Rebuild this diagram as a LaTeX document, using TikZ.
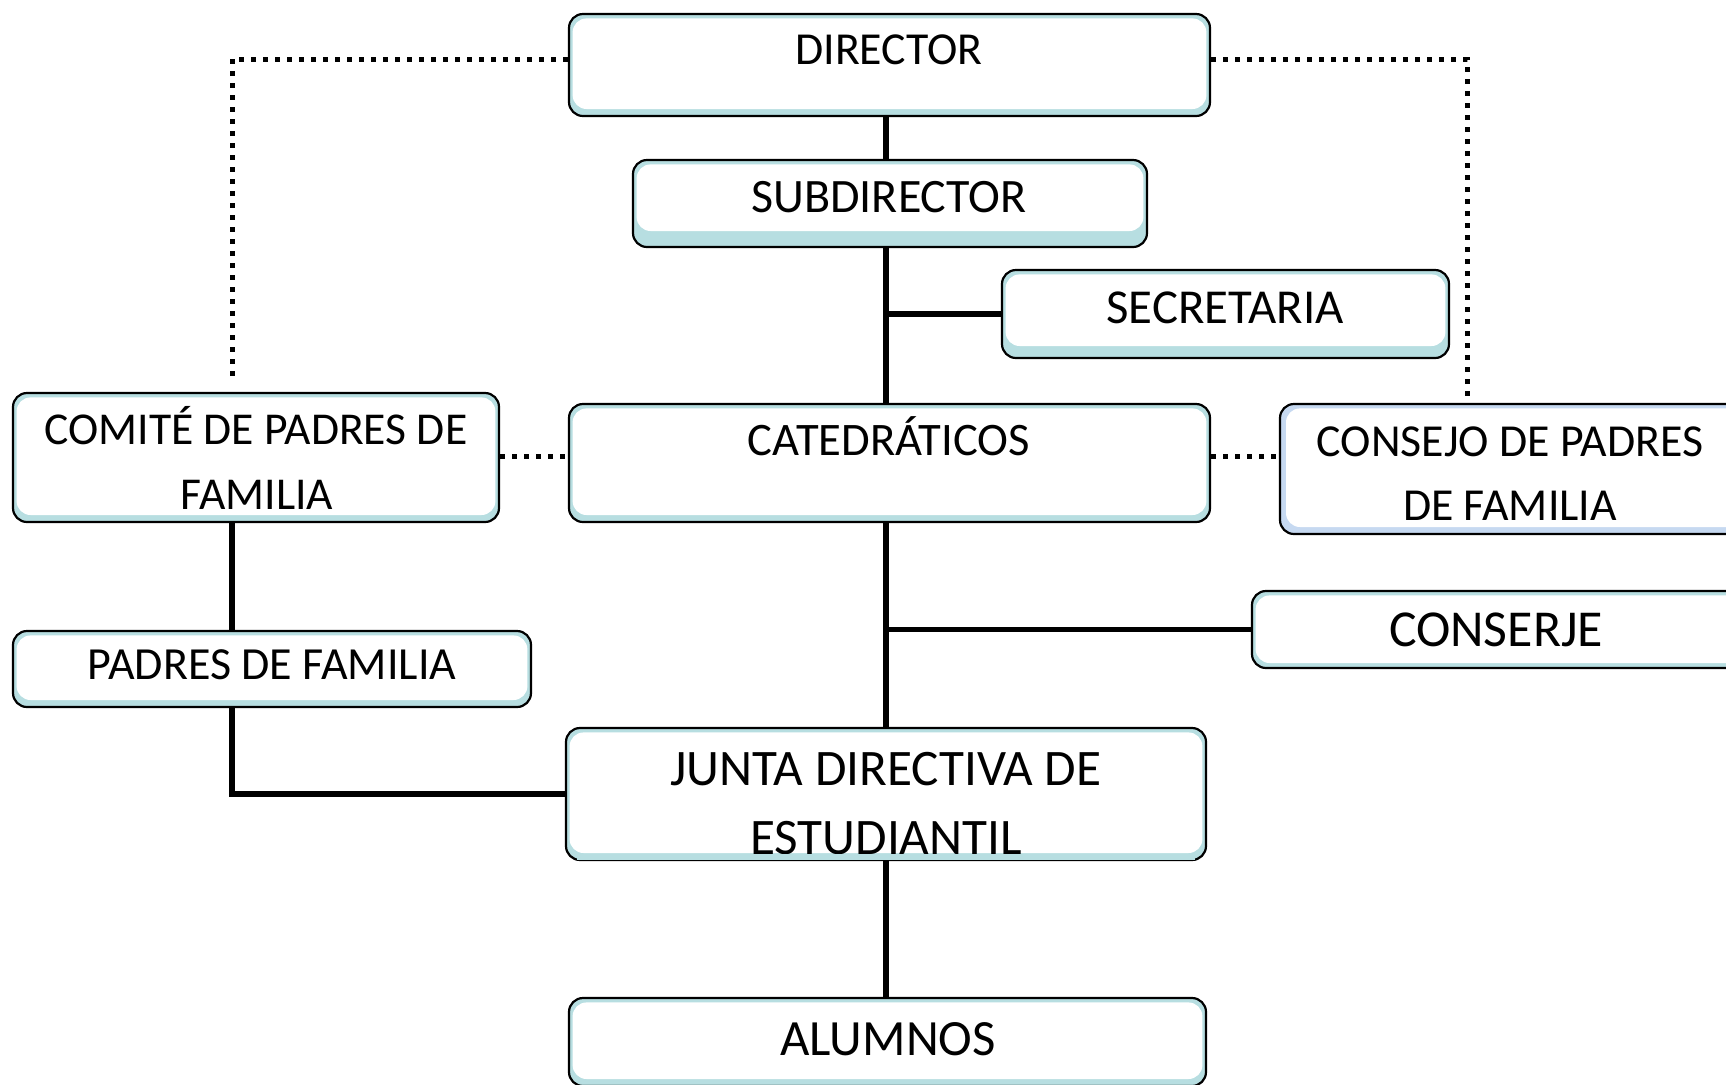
\documentclass[tikz,border=0pt]{standalone}
\usepackage{fontspec}
\setmainfont{Carlito}
\definecolor{bandc}{HTML}{B7DEE1}
\definecolor{bandl}{HTML}{C6D9F1}
\tikzset{
  x=0.5pt, y=-0.5pt,
  bbot/.store in=\bbot, bbot=3.5pt,
  bleft/.store in=\bleft, bleft=1.8pt,
  box/.style={draw=black, line width=1.1pt, rounded corners=7pt, fill=bandc, inner sep=0pt,
    path picture={\fill[white] ([xshift=\bleft,yshift=-2.2pt]path picture bounding box.north west) rectangle ([xshift=-1.8pt,yshift=\bbot]path picture bounding box.south east);}},
  txt/.style={anchor=base, inner sep=0pt, font=\fontsize{24}{28}\selectfont},
  solidline/.style={line width=2.6pt},
  dotline/.style={line width=2.5pt, dash pattern=on 2.5pt off 3.5pt},
}
\begin{document}
\begin{tikzpicture}
\clip (0,0) rectangle (1726,1084);
\fill[white] (0,0) rectangle (1726,1084);
% boxes
\node[box, minimum width=320.5pt, minimum height=51pt] (dir) at (889.5,65) {};
\node[box, bbot=8pt, minimum width=257pt, minimum height=43.5pt] (sub) at (890,203.5) {};
\node[box, bbot=6pt, minimum width=223.5pt, minimum height=44pt] (sec) at (1225.5,314) {};
\node[box, minimum width=243pt, minimum height=64.5pt] (com) at (256,457.5) {};
\node[box, minimum width=320.5pt, minimum height=59pt] (cat) at (889.5,463) {};
\node[box, fill=bandl, bleft=3pt, minimum width=240pt, minimum height=65pt] (cnj) at (1520,469) {};
\node[box, bbot=2.5pt, minimum width=254pt, minimum height=38.5pt] (csj) at (1506,629.5) {};
\node[box, minimum width=259pt, minimum height=38pt] (pad) at (272,669) {};
\node[box, minimum width=320pt, minimum height=66pt] (jun) at (886,794) {};
\node[box, minimum width=318.5pt, minimum height=44pt] (alu) at (887.5,1042) {};
% texts
\node[txt, font=\fontsize{22.9}{27}\selectfont] (tdir) at (889,64) {DIRECTOR};
\node[txt] (tsub) at (889,212) {SUBDIRECTOR};
\node[txt, font=\fontsize{24.4}{28}\selectfont] (tsec) at (1225,323) {SECRETARIA};
\node[txt, font=\fontsize{22.8}{27}\selectfont] (tcom1) at (256,444) {COMITÉ DE PADRES DE};
\node[txt, font=\fontsize{22.8}{27}\selectfont] (tcom2) at (257,509) {FAMILIA};
\node[txt, font=\fontsize{23.3}{27}\selectfont] (tcat) at (889,455) {CATEDRÁTICOS};
\node[txt, font=\fontsize{22.9}{27}\selectfont] (tcnj1) at (1510,456) {CONSEJO DE PADRES};
\node[txt, font=\fontsize{22.9}{27}\selectfont] (tcnj2) at (1510,520) {DE FAMILIA};
\node[txt, font=\fontsize{25.9}{30}\selectfont] (tcsj) at (1496,646) {CONSERJE};
\node[txt, font=\fontsize{23}{27}\selectfont] (tpad) at (272,679) {PADRES DE FAMILIA};
\node[txt, font=\fontsize{25.6}{30}\selectfont] (tjun1) at (886,785) {JUNTA DIRECTIVA DE};
\node[txt, font=\fontsize{25.6}{30}\selectfont] (tjun2) at (886,854) {ESTUDIANTIL};
\node[txt, font=\fontsize{25.4}{30}\selectfont] (talu) at (888,1055) {ALUMNOS};
% band over clipped text of JUNTA
\fill[bandc] ([xshift=6pt,yshift=0.6pt]jun.south west) rectangle ([xshift=-6pt,yshift=3.5pt]jun.south east);
% helper coordinates
\coordinate (spine) at (886,0);
\coordinate (lx) at (232,0);
\coordinate (cl) at (232,376);
\coordinate (cr) at (1467,398);
% solid connectors
\draw[solidline] (dir.south -| spine) -- (sub.north -| spine);
\draw[solidline] (sub.south -| spine) -- (cat.north -| spine);
\draw[solidline] (sec.west) -- (sec.west -| spine);
\draw[solidline] (cat.south -| spine) -- (jun.north -| spine);
\draw[solidline] (csj.west) -- (csj.west -| spine);
\draw[solidline] (jun.south -| spine) -- (alu.north -| spine);
\draw[solidline] (com.south -| lx) -- (pad.north -| lx);
\draw[solidline] (pad.south -| lx) |- (jun.west);
% dotted connectors
\draw[dotline] ([yshift=3pt]dir.west) -| (cl);
\draw[dotline] ([yshift=3pt]dir.east) -| (cr);
\draw[dotline] ([yshift=0.5pt]com.east) -- ([yshift=0.5pt]com.east -| cat.west);
\draw[dotline] ([yshift=0.5pt]com.east -| cat.east) -- ([yshift=0.5pt]com.east -| cnj.west);
\end{tikzpicture}
\end{document}
